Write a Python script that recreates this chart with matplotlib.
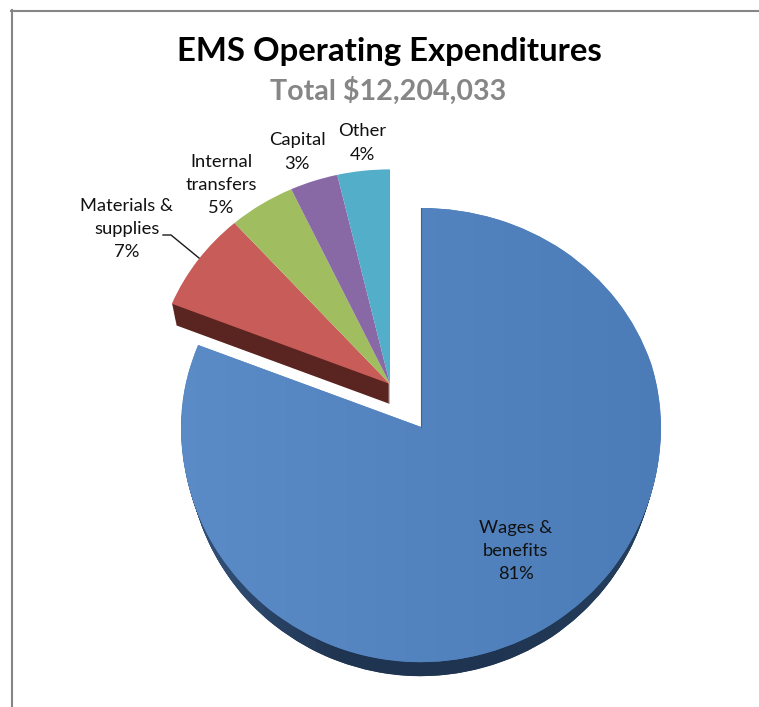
#!/usr/bin/env python
# Exploded pie of EMS operating expenditures, drawn with a tilted look.

import numpy as np
import matplotlib
matplotlib.use('Agg')
import matplotlib.pyplot as plt
from matplotlib.colors import LinearSegmentedColormap
from matplotlib.lines import Line2D

title = 'EMS Operating Expenditures'
subtitle = 'Total $12,204,033'
categories = ['Wages &\nbenefits', 'Materials &\nsupplies', 'Internal\ntransfers', 'Capital', 'Other']
shares = [81.1, 7.4, 4.6, 3.3, 3.6]

colors = ['#5283BF', '#C85C58', '#A0BD5F', '#8869A6', '#52AEC9']

W, H = 759, 707
# pixels per pie unit: the tilt squeezes the far half more than the near half
RX, RY_UP, RY_DOWN = 240.0, 219.0, 235.0
APEX_X, APEX_Y = 421.0, 427.0


def forward(y):
    y = np.asarray(y, dtype=float)
    return np.where(y > 0, y * RY_UP, y * RY_DOWN)


def inverse(y):
    y = np.asarray(y, dtype=float)
    return np.where(y > 0, y / RY_UP, y / RY_DOWN)


def pieLayer(ax, center, radius, keep, zorder):
    wedges, _ = ax.pie(shares, colors=colors, startangle=90, counterclock=False,
                       center=center, radius=radius, wedgeprops={'linewidth': 0})
    kept = []
    for index, wedge in enumerate(wedges):
        if index in keep:
            wedge.set_zorder(zorder)
            kept.append(wedge)
        else:
            wedge.remove()
    return kept


def shade(ax, wedge, cmap, zorder):
    # horizontal gradient, cut to the shape of the wedge
    xs = np.linspace(-1.0, 1.0, 65)
    ys = np.array([-1.3, 2.0])
    values = np.tile((xs[:-1] + xs[1:]) / 2, (1, 1))
    mesh = ax.pcolormesh(xs, ys, values, cmap=cmap, vmin=-1, vmax=1, zorder=zorder, shading='flat')
    mesh.set_clip_path(wedge)


def figText(fig, x, y, text, **kw):
    fig.text(x / W, 1 - y / H, text, ha='center', va='center', family='Lato', **kw)


fig = plt.figure(figsize=(W / 100, H / 100), dpi=100)
ax = fig.add_axes([0, 0, 1, 1])
ax.set_yscale('function', functions=(forward, inverse))

topCmap = LinearSegmentedColormap.from_list('top', ['#5B8BC7', '#5283BF', '#4C7CB7'])
rimCmap = LinearSegmentedColormap.from_list('rim', ['#34557F', '#1F3450', '#1F3450', '#25405F'])

# wages slice: shrinking copies make a rim that fades out towards the sides
for depth in range(14, 0, -1):
    shrink = 0.002 * depth
    rim = pieLayer(ax, (0, -depth / RY_DOWN - shrink), 1.0 - shrink, [0], 1)[0]
    rim.set_facecolor('#1F3450')
    shade(ax, rim, rimCmap, 1.5)
top = pieLayer(ax, (0, 0), 1.0, [0], 2)[0]
shade(ax, top, topCmap, 2.5)
ax.plot([0, 0], [0, 1.0], color='#3D6391', lw=0.8, zorder=3)

# the other four slices move out together
smallCenter = ((390 - APEX_X) / RX, (APEX_Y - 384) / RY_UP)
for depth in range(20, 0, -1):
    rim = pieLayer(ax, (smallCenter[0], smallCenter[1] - depth / RY_UP), 0.98 - 0.001 * depth, [1], 4)[0]
    rim.set_facecolor('#5A2420')
pieLayer(ax, smallCenter, 0.98, [1, 2, 3, 4], 5)

ax.set_aspect('auto')
ax.set_xlim(-APEX_X / RX, (W - APEX_X) / RX)
ax.set_ylim(-(H - APEX_Y) / RY_DOWN, APEX_Y / RY_UP)
ax.axis('off')

# chart border, open on the right
for xs, ys in [((12, 12), (10, H)), ((11, W), (11, 11))]:
    fig.add_artist(Line2D([x / W for x in xs], [1 - y / H for y in ys], color='#868686', lw=1.5))

# leader line for the materials label
leaderX = [163, 171, 199]
leaderY = [235, 235, 258]
fig.add_artist(Line2D([x / W for x in leaderX], [1 - y / H for y in leaderY], color='#1A1A1A', lw=1.0))

figText(fig, 389, 51, title, fontsize=23.7, fontweight='bold', color='black')
figText(fig, 388, 91, subtitle, fontsize=20.6, fontweight='bold', color='#868686')

labelPos = [(516, 551), (127, 229), (221, 185), (297, 152), (362, 143)]
for cat, share, (x, y) in zip(categories, shares, labelPos):
    figText(fig, x, y, '%s\n%.0f%%' % (cat, share), fontsize=13.2, color='#111111', linespacing=1.55)

plt.savefig('out.png', dpi=100)
